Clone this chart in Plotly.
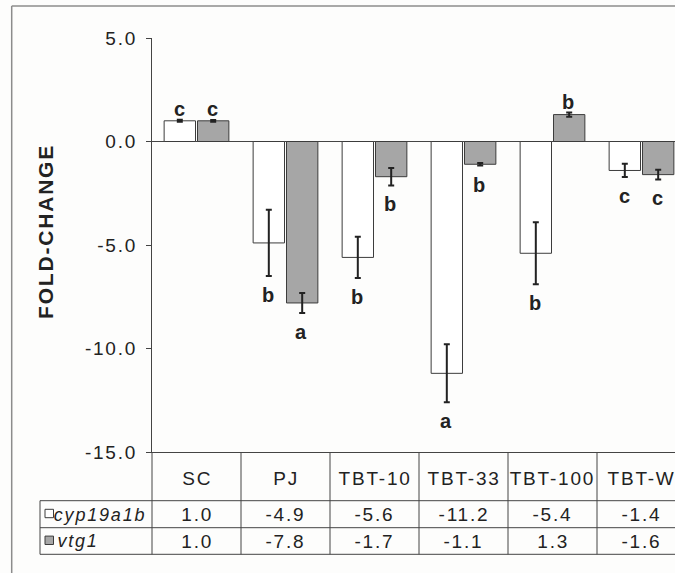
import plotly.graph_objects as go

# Treatment groups and mean fold-change per gene
categories = ["SC", "PJ", "TBT-10", "TBT-33", "TBT-100", "TBT-W"]
cyp19a1b = [1.0, -4.9, -5.6, -11.2, -5.4, -1.4]
vtg1 = [1.0, -7.8, -1.7, -1.1, 1.3, -1.6]
# Standard errors
cyp19a1b_err = [0.05, 1.6, 1.0, 1.4, 1.5, 0.32]
vtg1_err = [0.04, 0.48, 0.42, 0.06, 0.10, 0.23]
# Significance groupings
cyp19a1b_groups = ["c", "b", "b", "a", "b", "c"]
vtg1_groups = ["c", "a", "b", "b", "b", "c"]
y_ticks = [5.0, 0.0, -5.0, -10.0, -15.0]

W, H = 675, 573
L, R, T, B = 152, 0, 38, 121
PW, PH = W - L - R, H - T - B
CAT_W = 89.0  # pixel width of one category column

FONT = "Liberation Sans, Arial, sans-serif"
INK = "#222222"
EDGE = "#3c3c3c"
GREY = "#a6a6a6"


def px_x(px):
    return (px - L) / PW


def px_y(py):
    return (H - B - py) / PH


fig = go.Figure()
fig.add_bar(
    x=categories, y=cyp19a1b, name="cyp19a1b",
    marker=dict(color="white", line=dict(color=EDGE, width=1)),
    error_y=dict(type="data", array=cyp19a1b_err, color=INK, thickness=2, width=3),
)
fig.add_bar(
    x=categories, y=vtg1, name="vtg1",
    marker=dict(color=GREY, line=dict(color=EDGE, width=1)),
    error_y=dict(type="data", array=vtg1_err, color=INK, thickness=2, width=3),
)

annotations = []
shapes = []

# group letters beyond the error-bar ends
for vals, errs, groups, dx in ((cyp19a1b, cyp19a1b_err, cyp19a1b_groups, -16.5),
                              (vtg1, vtg1_err, vtg1_groups, 16.5)):
    for c, v, e, g in zip(categories, vals, errs, groups):
        neg = v < 0
        annotations.append(dict(
            x=c, y=v - e if neg else v + e, xref="x", yref="y",
            text=f"<b>{g}</b>", showarrow=False, xshift=dx,
            yshift=-19 if neg else 11, xanchor="center", yanchor="middle",
            font=dict(family=FONT, size=20, color=INK),
        ))

# data table below the plot
ROW_HDR, ROW_1, ROW_2 = 478, 514.5, 541
cell = dict(xref="x", yref="paper", showarrow=False, xanchor="center", yanchor="middle",
            font=dict(family=FONT, size=19, color=INK))
for i, c in enumerate(categories):
    annotations.append(dict(cell, x=c, y=px_y(ROW_HDR), text=c))
    annotations.append(dict(cell, x=c, y=px_y(ROW_1), text=f"{cyp19a1b[i]:.1f}"))
    annotations.append(dict(cell, x=c, y=px_y(ROW_2), text=f"{vtg1[i]:.1f}"))

for txt, yy in (("cyp19a1b", ROW_1), ("vtg1", ROW_2)):
    annotations.append(dict(x=px_x(59), y=px_y(yy), xref="paper", yref="paper",
                            text=f"<i>{txt}</i>", xanchor="left", yanchor="middle",
                            showarrow=False, font=dict(family=FONT, size=18, color=INK)))

# legend swatches
for fill, yy in (("white", 513.5), (GREY, 540.3)):
    shapes.append(dict(type="rect", xref="paper", yref="paper",
                       x0=px_x(45), x1=px_x(53.5), y0=px_y(yy - 4.2), y1=px_y(yy + 4.2),
                       fillcolor=fill, line=dict(color=EDGE, width=1)))

# y-axis title
annotations.append(dict(x=px_x(45), y=px_y(232), xref="paper", yref="paper",
                        text="<b>FOLD-CHANGE</b>", textangle=-90, showarrow=False,
                        xanchor="center", yanchor="middle",
                        font=dict(family=FONT, size=21, color=INK)))

line = dict(color="#444444", width=1)
# table rules
for yy in (500.7, 527.7, 554.3):
    shapes.append(dict(type="line", xref="paper", yref="paper",
                       x0=px_x(40), x1=1, y0=px_y(yy), y1=px_y(yy), line=line))
shapes.append(dict(type="line", xref="paper", yref="paper",
                   x0=px_x(40), x1=px_x(40), y0=px_y(500.7), y1=px_y(554.3), line=line))
shapes.append(dict(type="line", xref="paper", yref="paper",
                   x0=0, x1=0, y0=0, y1=px_y(554.3), line=line))
for k in range(len(categories)):
    shapes.append(dict(type="line", xref="x", yref="paper",
                       x0=k + 0.5, x1=k + 0.5, y0=0, y1=px_y(554.3), line=line))

# outer frame
frame = dict(color="#8c8c8c", width=1.5)
shapes.append(dict(type="line", xref="paper", yref="paper",
                   x0=px_x(11.7), x1=1, y0=px_y(6), y1=px_y(6), line=frame))
shapes.append(dict(type="line", xref="paper", yref="paper",
                   x0=px_x(11.7), x1=px_x(11.7), y0=px_y(6), y1=px_y(H + 2), line=frame))

fig.update_layout(
    width=W, height=H,
    margin=dict(l=L, r=R, t=T, b=B, autoexpand=False),
    paper_bgcolor="#fdfdfc", plot_bgcolor="#fdfdfc",
    barmode="group", bargap=0.25, bargroupgap=0.06,
    showlegend=False,
    annotations=annotations, shapes=shapes,
    font=dict(family=FONT, color=INK),
)
fig.update_xaxes(
    range=[-0.5, -0.5 + PW / CAT_W], showticklabels=False, ticks="",
    showline=True, linecolor="#444444", linewidth=1, showgrid=False, zeroline=False,
)
fig.update_yaxes(
    range=[-15, 5], tickvals=y_ticks, ticktext=[f"{v:.1f}" for v in y_ticks],
    ticks="outside", ticklen=5, tickcolor="#444444", ticklabelstandoff=5,
    tickfont=dict(family=FONT, size=19, color=INK),
    showline=True, linecolor="#444444", linewidth=1, showgrid=False,
    zeroline=True, zerolinecolor="#444444", zerolinewidth=1.2,
)

# the typeset labels use a slightly open tracking
tracking = """
var s = document.createElement('style');
s.textContent = '.main-svg text { letter-spacing: 1.8px; }';
document.head.appendChild(s);
"""

fig.write_html("out.html", post_script=tracking)
